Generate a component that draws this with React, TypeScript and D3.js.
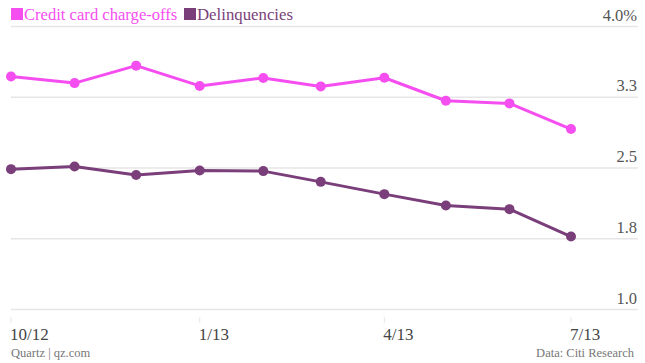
import React from "react";
import * as d3 from "d3";

const dates = ["2012-10-01","2012-11-01","2012-12-01","2013-01-01","2013-02-01","2013-03-01","2013-04-01","2013-05-01","2013-06-01","2013-07-01"];
const chargeOffs = [3.47, 3.40, 3.585, 3.37, 3.455, 3.365, 3.457, 3.213, 3.185, 2.913];
const delinquencies = [2.488, 2.516, 2.425, 2.473, 2.467, 2.353, 2.223, 2.102, 2.064, 1.773];
const yTicks = [1.0, 1.75, 2.5, 3.25, 4.0];
const xTicks = ["2012-10-01","2013-01-01","2013-04-01","2013-07-01"];
const xTickLabels = ["10/12","1/13","4/13","7/13"];
const seriesNames = ["Credit card charge-offs", "Delinquencies"];

const PINK = "#f54ef0";
const PURPLE = "#7a3f7a";
const FONT = "'Liberation Serif', 'Times New Roman', serif";

export default function App() {
  const W = 645, H = 363;
  const parse = d3.utcParse("%Y-%m-%d");
  const x = d3.scaleUtc()
    .domain([parse(dates[0])!, parse(dates[dates.length - 1])!])
    .range([11, 571]);
  const y = d3.scaleLinear().domain([1, 4]).range([309.5, 26.5]);
  const line = d3.line<number>()
    .x((_, i) => x(parse(dates[i])!))
    .y((d) => y(d));
  const series = [
    { name: seriesNames[0], values: chargeOffs, color: PINK },
    { name: seriesNames[1], values: delinquencies, color: PURPLE },
  ];
  const fmt = (v: number) => (v === 4 ? "4.0%" : (Math.round(v * 10 + 1e-6) / 10).toFixed(1));

  return (
    <svg width={W} height={H} style={{ position: "absolute", left: 0, top: 0, background: "#fff" }} fontFamily={FONT}>
      {yTicks.map((t) => (
        <g key={t}>
          <line x1={11} x2={638} y1={y(t)} y2={y(t)} stroke="#e6e6e6" strokeWidth={1.5} />
          <text x={637} y={y(t) - 6} textAnchor="end" fontSize={16.5} fill="#555">{fmt(t)}</text>
        </g>
      ))}
      {xTicks.map((d, i) => {
        const xp = x(parse(d)!);
        return (
          <g key={d}>
            <line x1={xp} x2={xp} y1={317} y2={323} stroke="#e6e6e6" strokeWidth={1} />
            <text x={xp - 1} y={340} fontSize={17} fill="#444">{xTickLabels[i]}</text>
          </g>
        );
      })}
      {series.map((s) => (
        <g key={s.name}>
          <path d={line(s.values) || ""} fill="none" stroke={s.color} strokeWidth={3} strokeLinejoin="round" />
          {s.values.map((v, i) => (
            <circle key={i} cx={x(parse(dates[i])!)} cy={y(v)} r={5} fill={s.color} />
          ))}
        </g>
      ))}
      <rect x={11} y={8} width={12} height={12} fill={PINK} />
      <text x={24} y={20} fontSize={16.6} fill={PINK}>{seriesNames[0]}</text>
      <rect x={184} y={8} width={12} height={12} fill={PURPLE} />
      <text x={197} y={20} fontSize={16.8} fill={PURPLE}>{seriesNames[1]}</text>
      <text x={11} y={357} fontSize={12.5} fill="#777">Quartz | qz.com</text>
      <text x={634} y={357} textAnchor="end" fontSize={12.5} fill="#777">Data: Citi Research</text>
    </svg>
  );
}
